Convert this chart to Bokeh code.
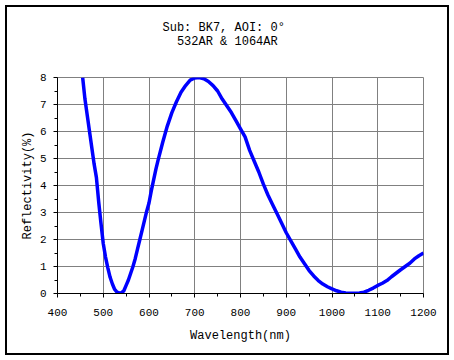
from bokeh.plotting import figure
from bokeh.models import Range1d, FixedTicker, Title, ColumnDataSource
from bokeh.embed import file_html
from bokeh.resources import INLINE

wavelength = [455, 460, 465, 470, 475, 480, 485, 490, 495, 500, 505, 510, 515, 520, 525,
              530, 535, 540, 545, 550, 555, 560, 565, 570, 575, 580, 585, 590, 595, 600,
              605, 610, 615, 620, 630, 640, 650, 660, 670, 680, 690, 700, 710, 720, 730,
              740, 750, 760, 770, 780, 790, 800, 810, 820, 830, 840, 850, 860, 870, 880,
              890, 900, 910, 920, 930, 940, 950, 960, 970, 980, 990, 1000, 1010, 1020, 1030,
              1040, 1050, 1060, 1070, 1080, 1090, 1100, 1110, 1120, 1130, 1140, 1150, 1160,
              1170, 1180, 1190, 1200]
reflectivity = [8.0, 7.2, 6.6, 6.0, 5.4, 4.8, 4.3, 3.4, 2.6, 1.85, 1.35, 0.95, 0.6, 0.35, 0.15,
                0.05, 0.02, 0.03, 0.1, 0.3, 0.5, 0.75, 1.0, 1.3, 1.65, 2.0, 2.35, 2.7, 3.05, 3.35,
                3.8, 4.2, 4.6, 4.95, 5.6, 6.2, 6.7, 7.1, 7.45, 7.7, 7.9, 7.98, 8.0, 7.95, 7.85,
                7.7, 7.5, 7.2, 6.95, 6.7, 6.4, 6.1, 5.8, 5.3, 4.9, 4.5, 4.05, 3.65, 3.3, 2.95,
                2.6, 2.25, 1.95, 1.65, 1.35, 1.1, 0.85, 0.65, 0.48, 0.35, 0.25, 0.17, 0.1, 0.05, 0.02,
                0.01, 0.01, 0.02, 0.05, 0.12, 0.2, 0.3, 0.38, 0.48, 0.62, 0.75, 0.88, 1.0,
                1.12, 1.28, 1.4, 1.5]

x_ticks = [400, 500, 600, 700, 800, 900, 1000, 1100, 1200]
x_minor = [450, 550, 650, 750, 850, 950, 1050, 1150]
y_ticks = [0, 1, 2, 3, 4, 5, 6, 7, 8]
title_lines = ["Sub: BK7, AOI: 0°", "\u00a0\u00a0532AR & 1064AR"]
x_label = "Wavelength(nm)"
y_label = "Reflectivity(%)"

FONT = "Liberation Mono"

p = figure(width=454, height=360, output_backend="svg", toolbar_location=None,
           x_range=Range1d(400, 1200), y_range=Range1d(0, 8),
           min_border_left=57, min_border_right=31, min_border_top=77, min_border_bottom=67)
p.background_fill_color = "white"
p.border_fill_color = None
p.outline_line_color = "#808080"
p.outline_line_width = 1
p.styles = {"outline": "2px solid black", "outline-offset": "-7px", "background-color": "white"}

src = ColumnDataSource(dict(x=wavelength, y=reflectivity))
p.line("x", "y", source=src, line_color="#0000FF", line_width=3.5)

p.xaxis.ticker = FixedTicker(ticks=x_ticks, minor_ticks=x_minor)
p.yaxis.ticker = FixedTicker(ticks=y_ticks, minor_ticks=[v + 0.5 for v in y_ticks[:-1]])
for ax in (p.xaxis[0], p.yaxis[0]):
    ax.axis_line_color = "black"
    ax.axis_line_width = 1
    ax.major_tick_line_color = "black"
    ax.minor_tick_line_color = "black"
    ax.major_tick_in = 0
    ax.major_tick_out = 4
    ax.minor_tick_in = 0
    ax.minor_tick_out = 3
    ax.major_label_text_font = FONT
    ax.major_label_text_font_size = "11px"
    ax.major_label_text_color = "black"
    ax.axis_label_text_font = FONT
    ax.axis_label_text_font_size = "12px"
    ax.axis_label_text_font_style = "normal"
    ax.axis_label_text_color = "black"
p.xaxis.axis_label = x_label
p.yaxis.axis_label = y_label
p.xaxis.major_label_standoff = 11
p.yaxis.major_label_standoff = 7
p.xaxis.axis_label_standoff = 10
p.yaxis.axis_label_standoff = 2

p.xgrid.ticker = FixedTicker(ticks=x_ticks)
p.ygrid.ticker = FixedTicker(ticks=y_ticks)
p.grid.grid_line_color = "#808080"
p.grid.grid_line_width = 1

# spacer nearest the frame, then the two-line title
p.add_layout(Title(text=" ", text_font_size="10px"), "above")
p.add_layout(Title(text="\n".join(title_lines), align="left", offset=105, text_font=FONT,
                   text_font_size="12px", text_font_style="normal", text_color="black",
                   text_line_height=1.05), "above")

open("out.html", "w").write(file_html(p, INLINE))
